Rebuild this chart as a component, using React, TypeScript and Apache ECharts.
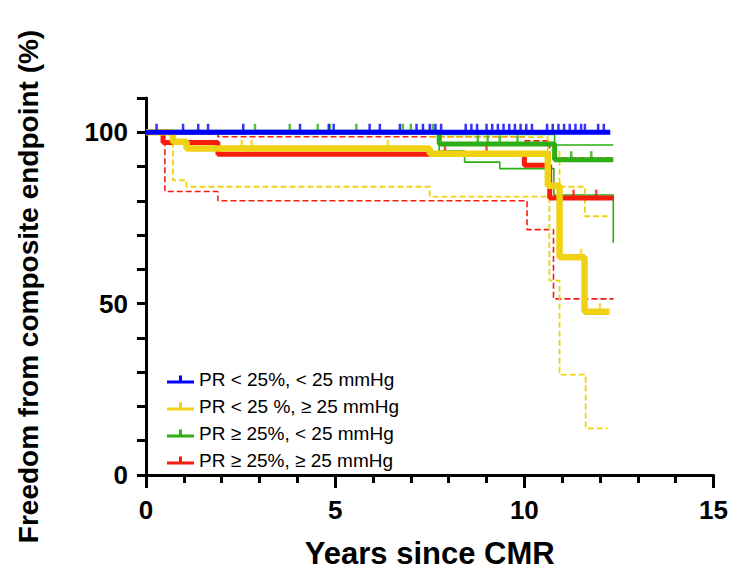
import React, { useEffect, useRef } from "react";
import * as echarts from "echarts";

// Group names
const groupNames = [
  "PR < 25%, < 25 mmHg",
  "PR < 25 %, ≥ 25 mmHg",
  "PR ≥ 25%, < 25 mmHg",
  "PR ≥ 25%, ≥ 25 mmHg",
];

// Axis tick labels
const xTickLabels = [0, 5, 10, 15];
const yTickLabels = [0, 50, 100];

// Blue: PR < 25%, < 25 mmHg
const blueTimes = [0, 12.27];
const blueSurv = [100, 100];
const blueCensor = [0.28, 0.98, 1.38, 1.64, 2.57, 4.07, 4.83, 4.96, 5.91, 6.18, 6.71, 7.15, 7.32, 7.5, 7.65, 7.8, 8.45, 8.6, 8.75, 9.0, 9.15, 9.3, 9.45, 9.6, 9.75, 9.9, 10.05, 10.2, 10.6, 10.75, 10.9, 11.05, 11.2, 11.35, 11.5, 11.6, 11.95, 12.1];

// Yellow: PR < 25 %, >= 25 mmHg
const yellowTimes = [0, 0.71, 1.07, 7.5, 10.62, 10.93, 11.59, 12.25];
const yellowSurv = [100, 97.2, 95.3, 93.7, 84.4, 63.5, 47.6, 47.6];
const yellowLowerTimes = [0, 0.71, 1.07, 7.5, 10.66, 10.93, 11.62, 12.2];
const yellowLowerSurv = [100, 86.0, 84.1, 81.2, 56.7, 29.3, 13.6, 13.6];
const yellowUpperTimes = [0, 7.5, 10.62, 10.93, 11.6, 12.2];
const yellowUpperSurv = [100, 98.6, 94.7, 84.1, 75.5, 75.5];
const yellowCensor = [2.53, 2.79, 6.39, 11.5, 12.0];

// Green: PR >= 25%, < 25 mmHg
const greenTimes = [0, 7.75, 10.8, 12.35];
const greenSurv = [100, 96.6, 92.0, 92.0];
const greenLowerTimes = [0, 7.75, 8.42, 9.35, 10.78, 12.35, 12.36];
const greenLowerSurv = [100, 94.5, 91.3, 89.4, 81.7, 67.8, 67.8];
const greenUpperTimes = [0, 7.75, 10.8, 12.35];
const greenUpperSurv = [100, 99.4, 96.3, 96.3];
const greenCensor = [2.88, 3.8, 4.54, 4.86, 5.56, 6.79, 7.0, 7.58, 8.77, 9.03, 9.35, 9.82, 11.24, 11.77];

// Red: PR >= 25%, >= 25 mmHg
const redTimes = [0, 0.45, 1.9, 10.0, 10.67, 12.36];
const redSurv = [100, 97.0, 93.6, 90.4, 80.8, 80.8];
const redLowerTimes = [0, 0.5, 1.9, 10.07, 10.77, 12.36];
const redLowerSurv = [100, 82.7, 80.0, 71.6, 51.4, 51.4];
const redUpperTimes = [0, 0.45, 1.9, 10.0, 10.67, 12.36];
const redUpperSurv = [100, 99.5, 98.7, 97.5, 92.5, 92.5];
const redCensor = [7.9, 9.0, 11.3, 11.9];

const colors = ["#0000FF", "#F0D215", "#2DAE14", "#F71C0C"];

const pairs = (t: number[], s: number[]) => t.map((x, i) => [x, s[i]]);
const survAt = (t: number[], s: number[], x: number) => {
  let v = s[0];
  for (let i = 0; i < t.length; i++) if (t[i] <= x) v = s[i];
  return v;
};

export default function App() {
  const ref = useRef<HTMLDivElement>(null);
  useEffect(() => {
    document.body.style.margin = "0";
    if (!ref.current) return;
    const chart = echarts.init(ref.current, undefined, { renderer: "svg" });
    const font = "Liberation Sans";

    const stepLine = (name: string, t: number[], s: number[], color: string, width: number, dashed: boolean, z: number) => ({
      name,
      type: "line",
      step: "end",
      data: pairs(t, s),
      symbol: "none",
      silent: true,
      z,
      lineStyle: { color, width, type: dashed ? [6, 3] : "solid" },
      itemStyle: { color },
    });
    const censor = (name: string, c: number[], t: number[], s: number[], color: string, z: number) => ({
      name,
      type: "scatter",
      data: c.map((x) => [x, survAt(t, s, x)]),
      symbol: "rect",
      symbolSize: [2.5, 10],
      symbolOffset: [0, -3.5],
      itemStyle: { color },
      silent: true,
      z,
    });

    chart.setOption({
      animation: false,
      backgroundColor: "#ffffff",
      grid: { left: 146, right: 16, top: 98, bottom: 95 },
      legend: {
        orient: "vertical",
        left: 162,
        top: 365,
        itemWidth: 27,
        itemHeight: 8,
        itemGap: 8,
        icon: "path://M0,5 L12,5 L12,0 L15,0 L15,5 L27,5 L27,8 L0,8 Z",
        data: groupNames,
        textStyle: { fontFamily: font, fontSize: 19, color: "#000" },
        selectedMode: false,
      },
      xAxis: {
        type: "value",
        min: 0,
        max: 15,
        interval: 5,
        name: "Years since CMR",
        nameLocation: "middle",
        nameGap: 63,
        nameTextStyle: { fontFamily: font, fontSize: 31, fontWeight: "bold", color: "#000" },
        axisLine: { onZero: false, lineStyle: { color: "#000", width: 3 } },
        axisTick: { length: 13, lineStyle: { width: 3, color: "#000" } },
        minorTick: { show: true, splitNumber: 5, length: 8, lineStyle: { width: 3, color: "#000" } },
        axisLabel: {
          fontFamily: font,
          fontSize: 26,
          fontWeight: "bold",
          color: "#000",
          margin: 22,
          formatter: (v: number) => (xTickLabels.includes(v) ? String(v) : ""),
        },
        splitLine: { show: false },
      },
      yAxis: {
        type: "value",
        min: 0,
        max: 110,
        interval: 10,
        name: "Freedom from composite endpoint (%)",
        nameLocation: "middle",
        nameGap: 104,
        nameTextStyle: { fontFamily: font, fontSize: 28, fontWeight: "bold", color: "#000" },
        axisLine: { show: true, lineStyle: { color: "#000", width: 3 } },
        axisTick: { show: true, length: 9, lineStyle: { width: 3, color: "#000" } },
        axisLabel: {
          fontFamily: font,
          fontSize: 26,
          fontWeight: "bold",
          color: "#000",
          margin: 18,
          formatter: (v: number) => (yTickLabels.includes(v) ? String(v) : ""),
        },
        splitLine: { show: false },
      },
      series: [
        stepLine("redUpper", redUpperTimes, redUpperSurv, colors[3], 1.6, true, 2),
        stepLine("redLower", redLowerTimes, redLowerSurv, colors[3], 1.6, true, 2),
        stepLine("greenUpper", greenUpperTimes, greenUpperSurv, colors[2], 1.6, false, 2),
        stepLine("greenLower", greenLowerTimes, greenLowerSurv, colors[2], 1.6, false, 2),
        stepLine("yellowUpper", yellowUpperTimes, yellowUpperSurv, colors[1], 1.8, true, 2),
        stepLine("yellowLower", yellowLowerTimes, yellowLowerSurv, colors[1], 1.8, true, 2),
        stepLine(groupNames[3], redTimes, redSurv, colors[3], 5, false, 3),
        censor("redCensor", redCensor, redTimes, redSurv, colors[3], 3),
        stepLine(groupNames[2], greenTimes, greenSurv, colors[2], 5, false, 4),
        censor("greenCensor", greenCensor, greenTimes, greenSurv, colors[2], 4),
        stepLine(groupNames[1], yellowTimes, yellowSurv, colors[1], 6.5, false, 5),
        censor("yellowCensor", yellowCensor, yellowTimes, yellowSurv, colors[1], 5),
        censor("blueCensor", blueCensor, blueTimes, blueSurv, colors[0], 6),
        stepLine(groupNames[0], blueTimes, blueSurv, colors[0], 5, false, 6),
      ],
    });
    return () => chart.dispose();
  }, []);
  return <div ref={ref} style={{ width: 731, height: 574 }} />;
}
